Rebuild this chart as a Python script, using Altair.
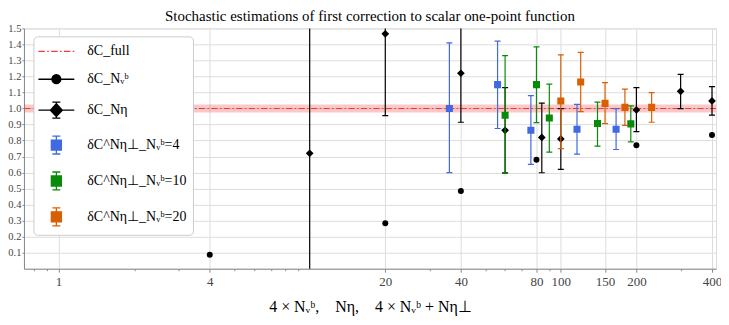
import altair as alt
import pandas as pd

# ---------------- data ----------------
# delta C_{N_v^b}  (black circles, x = 4 x N_v^b)
nvb_x = [4, 20, 40, 80, 200, 400]
nvb_y = [0.087, 0.284, 0.485, 0.68, 0.771, 0.835]

# delta C_{N_eta}  (black diamonds with error bars, x = N_eta)
neta_x = [10, 20, 40, 60, 84, 100, 200, 300, 400]
neta_y = [0.72, 1.466, 1.22, 0.864, 0.819, 0.81, 0.991, 1.107, 1.047]
neta_lo = [-0.5, 0.955, 0.914, 0.598, 0.599, 0.62, 0.856, 0.999, 0.958]
neta_hi = [1.94, 1.98, 1.53, 1.13, 1.034, 0.999, 1.13, 1.213, 1.136]

# delta C^{N_eta_perp}_{N_v^b=4}  (x = 16 + N_eta_perp)
b4_x = [36, 56, 76, 116, 166]
b4_y = [1.0, 1.149, 0.864, 0.871, 0.871]
b4_lo = [0.60, 0.875, 0.651, 0.715, 0.744]
b4_hi = [1.41, 1.42, 1.08, 1.026, 0.999]

# delta C^{N_eta_perp}_{N_v^b=10}  (x = 40 + N_eta_perp)
b10_x = [60, 80, 90, 140, 190]
b10_y = [0.958, 1.149, 0.941, 0.906, 0.904]
b10_lo = [0.595, 0.912, 0.728, 0.765, 0.792]
b10_hi = [1.33, 1.385, 1.152, 1.04, 1.016]

# delta C^{N_eta_perp}_{N_v^b=20}  (x = 80 + N_eta_perp)
b20_x = [100, 120, 150, 180, 230]
b20_y = [1.047, 1.165, 1.032, 1.007, 1.007]
b20_lo = [0.75, 0.98, 0.906, 0.894, 0.914]
b20_hi = [1.335, 1.35, 1.161, 1.121, 1.099]

# delta C_full
full_value = 1.0
full_halfwidth = 0.025

x_major = [1, 4, 20, 40, 80, 100, 150, 200, 400]
x_minor = [0.8, 0.9, 2, 3, 5, 6, 7, 8, 9, 30, 50, 60, 70, 90, 300]
y_ticks = [0.1, 0.2, 0.3, 0.4, 0.5, 0.6, 0.7, 0.8, 0.9, 1.0, 1.1, 1.2, 1.3, 1.4, 1.5]

series_labels = [
    "δC_full",
    "δC_Nᵥᵇ",
    "δC_Nη",
    "δC^Nη⊥_Nᵥᵇ=4",
    "δC^Nη⊥_Nᵥᵇ=10",
    "δC^Nη⊥_Nᵥᵇ=20",
]

# ---------------- styling ----------------
SERIF = "Liberation Serif"
RED = "#f03a3a"
BLUE = "#4169e1"
GREEN = "#0a8a0a"
ORANGE = "#d95f02"
series_colors = [RED, "black", "black", BLUE, GREEN, ORANGE]

# legend glyphs (custom symbol paths, unit box -1..1)
legend_paths = [
    "M-2.25,0H-1.45M-1.15,0H-0.95M-0.65,0H0.15M0.45,0H0.65M0.95,0H1.75M2.05,0H2.25",
    "M-2.25,0H2.25M0.56,0A0.56,0.56 0 1,1 -0.56,0A0.56,0.56 0 1,1 0.56,0Z",
    "M-2.25,0H2.25M0,-1V1M-0.5,-1H0.5M-0.5,1H0.5M0,-0.8L0.75,0L0,0.8L-0.75,0Z",
    "M0,-1.12V1.12M-0.5,-1.12H0.5M-0.5,1.12H0.5M-0.63,-0.63H0.63V0.63H-0.63Z",
    "M0,-1.12V1.12M-0.5,-1.12H0.5M-0.5,1.12H0.5M-0.63,-0.63H0.63V0.63H-0.63Z",
    "M0,-1.12V1.12M-0.5,-1.12H0.5M-0.5,1.12H0.5M-0.63,-0.63H0.63V0.63H-0.63Z",
]

W, H = 694, 241
SP = "\u2003"

major_test = "indexof([1,4,20,40,80,100,150,200,400], datum.value) >= 0"

xscale = alt.Scale(type="log", domain=[0.728, 415], nice=False)
yscale = alt.Scale(domain=[0, 1.5], nice=False, zero=False)

xaxis = alt.Axis(
    values=sorted(x_major + x_minor),
    labelExpr=f"({major_test}) ? format(datum.value, 'd') : ''",
    gridOpacity={"condition": {"test": major_test, "value": 1}, "value": 0},
    tickSize={"condition": {"test": major_test, "value": 3.5}, "value": 2},
    labelOverlap=False,
    labelFlush=False,
    labelFont=SERIF,
    labelFontSize=13,
    labelColor="#444444",
    labelPadding=3,
    title=f"4 × Nᵥᵇ,{SP}Nη,{SP}4 × Nᵥᵇ + Nη⊥",
    titleFont=SERIF,
    titleFontSize=16,
    titleFontWeight="normal",
    titleColor="black",
    titlePadding=10,
)
yaxis = alt.Axis(
    values=y_ticks,
    format=".1f",
    labelFont=SERIF,
    labelFontSize=10.5,
    labelColor="#444444",
    labelPadding=1,
    tickSize=2,
    labelFlush=False,
    labelOverlap=False,
    title=None,
)


def X(field="x"):
    return alt.X(f"{field}:Q", scale=xscale, axis=xaxis)


def Y(field):
    return alt.Y(f"{field}:Q", scale=yscale, axis=yaxis)


def errbar_layers(xs, ys, lo, hi, color, shape, size):
    df = pd.DataFrame({"x": xs, "y": ys, "lo": lo, "hi": hi})
    base = alt.Chart(df)
    bar = base.mark_rule(color=color, strokeWidth=1.2, clip=True).encode(
        x=X(), y=Y("lo"), y2="hi:Q"
    )
    cap_lo = base.mark_tick(
        color=color, orient="horizontal", size=6, thickness=1.2, clip=True, opacity=1
    ).encode(x=X(), y=Y("lo"))
    cap_hi = base.mark_tick(
        color=color, orient="horizontal", size=6, thickness=1.2, clip=True, opacity=1
    ).encode(x=X(), y=Y("hi"))
    pts = base.mark_point(
        color=color, shape=shape, size=size, filled=True, opacity=1, clip=True
    ).encode(x=X(), y=Y("y"))
    return [bar, cap_lo, cap_hi, pts]


# red band + dash-dot line for delta C_full
band_df = pd.DataFrame({"y": [full_value]})
band = alt.Chart(band_df).mark_rule(
    color=RED, opacity=0.28, strokeWidth=2 * full_halfwidth * H / 1.5
).encode(y=Y("y"))
full_line = alt.Chart(band_df).mark_rule(
    color=RED, strokeWidth=1.2, strokeDash=[6, 2.5, 1.5, 2.5]
).encode(y=Y("y"))

circ_df = pd.DataFrame({"x": nvb_x, "y": nvb_y})
circles = alt.Chart(circ_df).mark_point(
    color="black", shape="circle", size=36, filled=True, opacity=1, clip=True
).encode(x=X(), y=Y("y"))

layers = [band, full_line]
layers += errbar_layers(neta_x, neta_y, neta_lo, neta_hi, "black", "diamond", 60)
layers += [circles]
layers += errbar_layers(b4_x, b4_y, b4_lo, b4_hi, BLUE, "square", 50)
layers += errbar_layers(b10_x, b10_y, b10_lo, b10_hi, GREEN, "square", 50)
layers += errbar_layers(b20_x, b20_y, b20_lo, b20_hi, ORANGE, "square", 50)

# legend carrier layer (no visible rows)
leg = alt.Legend(
    title=None,
    orient="none",
    legendX=9.5,
    legendY=8,
    symbolSize=256,
    symbolOffset=8,
    symbolStrokeWidth=1.3,
    labelOffset=22,
    rowPadding=12,
    padding=6,
    labelFont=SERIF,
    labelFontSize=14,
    labelColor="black",
    labelLimit=250,
    fillColor="white",
    strokeColor="#cccccc",
    cornerRadius=4,
)
leg_df = pd.DataFrame({"s": series_labels, "x": [1.0] * 6, "y": [1.0] * 6})
sdom = alt.Scale(domain=series_labels, range=series_colors)
legend_layer = (
    alt.Chart(leg_df)
    .transform_filter("false")
    .mark_point(filled=True, opacity=1)
    .encode(
        x=X(),
        y=Y("y"),
        fill=alt.Fill("s:N", scale=sdom, legend=leg, sort=series_labels),
        stroke=alt.Stroke("s:N", scale=sdom, legend=leg, sort=series_labels),
        shape=alt.Shape(
            "s:N",
            scale=alt.Scale(domain=series_labels, range=legend_paths),
            legend=leg,
            sort=series_labels,
        ),
    )
)
layers.append(legend_layer)

chart = (
    alt.layer(*layers)
    .properties(
        width=W,
        height=H,
        autosize="none",
        padding={"left": 16, "top": 20, "right": 5, "bottom": 50},
        title=alt.TitleParams(
            "Stochastic estimations of first correction to scalar one-point function",
            font=SERIF,
            fontSize=15,
            fontWeight="normal",
            color="black",
            offset=-1,
        ),
    )
    .configure_view(stroke="#333333", strokeWidth=1)
    .configure_axis(
        gridColor="#d9d9d9",
        gridWidth=1,
        domain=False,
        tickColor="#555555",
    )
    .configure(background="white")
)

chart.save("out.html", embed_options={"renderer": "svg", "actions": False})
